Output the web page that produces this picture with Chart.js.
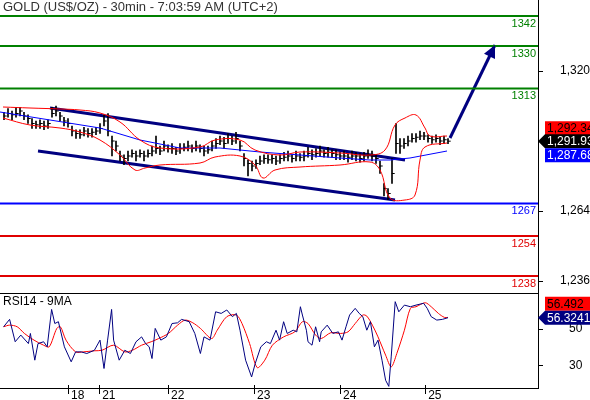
<!DOCTYPE html>
<html><head><meta charset="utf-8">
<script src="https://cdn.jsdelivr.net/npm/chart.js@4"></script>
<style>body{margin:0;background:#fff;overflow:hidden}canvas{position:absolute;left:0}#c1{top:0}#c2{top:293px}</style>
</head><body>
<canvas id="c1" width="590" height="293"></canvas>
<canvas id="c2" width="590" height="107"></canvas>
<script>
const title = "GOLD (US$/OZ) - 30min - 7:03:59 AM (UTC+2)";
const close = [1302,1303,1302.5,1303,1304,1302,1301,1299,1298.5,1299,1298,1299,1303,1304,1302,1300,1299,1296,
1295,1294.5,1296,1295,1295.5,1296,1297,1300,1296,1292,1290,1286,1285,1286,1287,1286,1287,1286,1287,1288,
1289,1288,1290,1289,1289,1288,1289,1289.5,1290,1289,1290,1289,1288,1288.5,1290,1291,1292,1291,1293,1292,1293,1290,
1285,1283,1282,1283,1284,1285,1284.5,1285,1284,1285,1285.5,1286,1285,1286,1285.5,1286,1287,1286.5,1287,1288,1287,1287.5,1287,1286.5,1286,
1286,1285.5,1286,1286,1285,1286,1286.5,1286,1285,1282,1273,1271,1279,1291,1290,1291,1292,1293,1293.5,1294,
1294,1293,1292.5,1293,1292,1292.5,1291.93];
const up = [1.5,2,1.5,2.5,1.5,1.5,1.5,2,1.5,1.5,2,1.5,2.5,2,1.5,1.5,2,2,
1.5,2,1.5,2,1.5,1.5,2,2.5,7,2,2,2,1.5,2,1.5,2,1.5,2,1.5,2,
5,2,2,1.5,2,1.5,2,1.5,2,1.5,2,1.5,2,1.5,2,2,2,2.5,2,2,2.5,2,
2,1.5,2,1.5,2,1.5,2,1.5,2,1.5,2,2,1.5,2,1.5,2,2.5,2,2,2,1.5,2,1.5,2,1.5,
2,1.5,2,1.5,2,1.5,2,2,1.5,2,2,2,6,8,3,2,2,2,1.5,2,
1.5,1.5,1.5,1.5,1.5,1.5,1];
const dn = [1.5,1.5,2,1.5,2,1.5,2,2,1.5,2,1.5,2,1.5,2,2,2,1.5,2,
2,1.5,2,1.5,2,1.5,2,2,2,6,2,2,2.5,2,1.5,2,1.5,2,1.5,2,
2,1.5,2,1.5,2,1.5,2,1.5,2,1.5,2,1.5,2,1.5,2,2,1.5,2,2,1.5,2,2,
3,5,2,2,1.5,2,1.5,2,1.5,2,1.5,2,1.5,2,1.5,2,1.5,2,1.5,2,1.5,2,1.5,2,1.5,
1.5,2,1.5,2,1.5,2,1.5,2,2,3,3,2.5,4,4,3,2,2,1.5,2,1.5,
1.5,1.5,1.5,1.5,1.5,1.5,1];
const bbUpX = [0.75,7.5,15,20,25,30,35,40,50,53.75,60,63.75,70,75,85,92.5,96.25,98.75,101.25,104,106.25,107.5,111.75];
const bbUp = [1305.6,1305.2,1304.8,1304.4,1303.2,1299.6,1292.4,1289.2,1289.6,1292.4,1292.4,1288.4,1286.4,1287.6,1287.2,1286.4,1288.4,1298.4,1301.2,1302.4,1297.2,1294,1294];
const bbLoX = [0.75,7.5,15,20,25,30,33.75,36.25,40,50,53.75,60,63.75,65.75,68.75,75,85,92.5,95,97.5,101.25,103.75,105,106.25,111.75];
const bbLo = [1301.2,1298.4,1297.2,1295.6,1292.4,1286.4,1280.4,1281.2,1282.4,1283.2,1285.6,1286,1282.4,1277.2,1280.4,1281.6,1282.4,1283.6,1280.4,1269.2,1268.4,1270.4,1284.4,1289.6,1291.2];
const maX = [0,12.5,25,35,45,55,65,75,85,92.5,97.5,102.5,111.75];
const ma = [1303.6,1300.4,1297.2,1292.4,1289.2,1289.2,1287.6,1286.4,1285.2,1284.4,1284.4,1285.2,1288];
const chanUp = [[12.5,1305.2],[101.25,1284.4]];
const chanLo = [[9.5,1288],[98.75,1268.4]];
const arrowPts = [[112.5,1293.2],[123.75,1330.4]];
const levels = [1342,1330,1313,1267,1254,1238];
const levelColors = ["#008000","#008000","#008000","#0000ff","#e00000","#e00000"];
const priceTicks = [1236,1264,1320];
const badges = [["1,292.34","#ff0000","#000",-13],["1,291.93","#000","#fff",0],["1,287.68","#0000ff","#fff",14]];
const badgeRef = 1291.93;

const rsiX = [0.9,2.4,3.8,5.2,7.1,7.6,8.7,9.5,10.9,11.8,12.9,13.7,14.6,16.1,17.8,18.9,20.3,21.7,23.6,25,26,26.9,27.9,28.4,29.8,31.2,32.6,34,35.4,36.4,37.3,38,38.8,40.2,41.6,43,44.4,45.4,47.3,48.7,50.1,51,52.5,53.9,55.3,56.7,58.1,59.1,60,61.4,62.9,63.8,65.2,66.6,67.6,69,69.9,70.9,71.8,73.3,74.2,75.1,75.6,76.6,77,78,78.9,79.9,80.3,81.8,83.2,84.6,85.5,86.5,87.4,88.8,89.8,90.7,91.7,92.6,93.6,94.5,95.5,96.4,97.2,97.8,98.8,99.7,101.1,102.6,104,105.9,106.8,107.8,109.2,110.6,112];
const rsi = [51.3,55.4,43,46.7,42,47.6,32.8,42,43,40.2,60.9,53.1,54.1,40.2,31.9,37.4,37.4,36.5,38.3,43.9,28.2,43.9,60.9,43.9,32.8,38.3,36.5,43,45.7,42,40.2,33.7,50.4,43.9,45.7,53.1,53.5,55.4,54.1,47.6,36.5,45.7,43.9,59.6,58.7,60.6,56.9,58.7,49.4,32.8,23.5,30.9,40.2,43,42,49.4,43.9,54.1,47.6,49.4,48.5,62.4,57.8,49.4,43,41.1,51.3,43,48.5,52.2,47.6,48.5,43.9,51.3,57.8,61.5,58.7,56.9,49.4,54.1,40.2,43.9,32.8,21.7,18.3,34.6,65.2,59.6,63.3,62.4,63.3,64.3,61.5,56.9,55,55.4,56.32];
const rsiMaX = [0.9,2.4,4.3,6.1,8.5,10.9,12.3,14.2,15.1,16.5,18.9,20.8,23.6,25.5,28.4,31.2,33.1,35.4,37.8,39.7,42.1,44.4,46.3,48.2,50.1,52.9,54.3,56.7,59.1,60.5,62.4,64.3,66.2,68.1,70.9,73.7,75.6,77,78.9,80.3,82.7,85.1,87,88.8,90.7,91.7,93.1,94.5,96.4,97.8,99.2,101.1,102.6,104,106.3,107.8,109.6,111.1,112];
const rsiMa = [51.3,52.2,51.3,47.6,43.9,41.1,40.2,50.4,51.3,43.9,37.4,37.4,38,38.3,41.1,37.4,38.3,41.1,43,44.8,47.6,52.2,55,53.5,50.4,44.8,49.4,56.9,57.8,53.1,42,28.7,32.8,41.1,45.7,48.5,54.1,53.1,46.7,44.8,48,47.6,48.5,53.1,57.8,57.2,52.2,45.7,35.6,29.1,36.5,49.4,61.5,62.4,64.6,62.4,58.7,56.5,56.49];
const rsiTicks = [30,50];
const rsiBadges = [["56.492","#ff0000","#000",-14],["56.3241","#000080","#fff",0]];
const dayTicks = [17,24.8,42,63.5,85,106.3];
const dayLabels = ["18","21","22","23","24","25"];

const FONT = "'Liberation Sans', Arial, sans-serif";
const XMAX = 134.5;
const pts = (xs, ys) => xs.map((x,i)=>({x, y:ys[i]}));
const seg = a => a.map(p=>({x:p[0],y:p[1]}));
const line = (data,color,w,extra={}) => Object.assign({type:'line',data,borderColor:color,borderWidth:w,pointRadius:0,pointHoverRadius:0,fill:false,tension:0},extra);

function badge(ctx, x, y, txt, bg, fg, arrow){
  ctx.font = "12px " + FONT;
  ctx.fillStyle = bg;
  ctx.beginPath();
  if(arrow){ctx.moveTo(x-7,y);ctx.lineTo(x,y-7);}
  else ctx.moveTo(x,y-7);
  ctx.lineTo(590,y-7);ctx.lineTo(590,y+7);ctx.lineTo(x,y+7);
  ctx.closePath();ctx.fill();
  ctx.fillStyle = fg;ctx.textAlign='left';ctx.textBaseline='middle';
  ctx.fillText(txt, x+2, y+1);
}

const mainPlugin = {
  id:'mainDeco',
  afterDraw(chart){
    const {ctx, chartArea:a, scales:{x,y}} = chart;
    ctx.save();
    const p0 = arrowPts[0], p1 = arrowPts[1];
    const x0=x.getPixelForValue(p0[0]), y0=y.getPixelForValue(p0[1]);
    const x1=x.getPixelForValue(p1[0]), y1=y.getPixelForValue(p1[1]);
    const ang = Math.atan2(y1-y0,x1-x0);
    ctx.fillStyle = "#000080";
    ctx.beginPath();
    ctx.moveTo(x1,y1);
    ctx.lineTo(x1-14*Math.cos(ang-0.45), y1-14*Math.sin(ang-0.45));
    ctx.lineTo(x1-14*Math.cos(ang+0.45), y1-14*Math.sin(ang+0.45));
    ctx.closePath();ctx.fill();
    ctx.font = "11px " + FONT; ctx.textAlign='right'; ctx.textBaseline='top';
    levels.forEach((l,i)=>{ctx.fillStyle=levelColors[i];ctx.fillText(String(l), a.right-2, y.getPixelForValue(l)+2);});
    ctx.fillStyle="#333";ctx.textAlign='left';ctx.textBaseline='top';ctx.font="13px "+FONT;
    ctx.fillText(title, 3, 1);
    const by = y.getPixelForValue(badgeRef);
    badges.forEach(b=>badge(ctx, a.right+7, by+b[3], b[0], b[1], b[2], b[3]===0));
    ctx.restore();
  }
};

new Chart(document.getElementById('c1'), {
  data:{datasets:[
    ...levels.map((l,i)=>line([{x:0,y:l},{x:XMAX,y:l}], levelColors[i], 2)),
    line(pts(bbUpX,bbUp),"#ff0000",1,{tension:0.4}),
    line(pts(bbLoX,bbLo),"#ff0000",1,{tension:0.4}),
    line(pts(maX,ma),"#0000ff",1),
    {type:'bar',data:close.map((c,i)=>({x:i+1,y:[c-dn[i],c+up[i]]})),backgroundColor:"#000",barThickness:1,grouped:false},
    {type:'scatter',data:close.map((c,i)=>({x:i+1.3,y:c})),pointStyle:'line',pointRadius:1.5,pointHoverRadius:0,borderColor:"#000",borderWidth:1},
    line(seg(chanUp),"#000080",3),
    line(seg(chanLo),"#000080",3),
    line(seg(arrowPts),"#000080",3)
  ]},
  options:{
    responsive:false, animation:false, devicePixelRatio:1,
    layout:{padding:0, autoPadding:false},
    plugins:{legend:{display:false},tooltip:{enabled:false},title:{display:false}},
    scales:{
      x:{type:'linear',min:0,max:XMAX,display:false,offset:false},
      y:{type:'linear',position:'right',min:1231.2,max:1348.4,
        afterFit(s){s.width=52;s.paddingTop=0;s.paddingBottom=0;},
        afterBuildTicks(s){s.ticks=priceTicks.map(v=>({value:v}));},
        ticks:{color:"#000",font:{size:12,family:FONT},padding:17,callback:v=>v.toLocaleString('en-US')},
        grid:{drawOnChartArea:false,tickLength:5,color:"#000"},
        border:{color:"#000"}}
    }
  },
  plugins:[mainPlugin]
});

const rsiPlugin = {
  id:'rsiDeco',
  afterDraw(chart){
    const {ctx, chartArea:a, scales:{x,y}} = chart;
    ctx.save();
    ctx.strokeStyle="#000";ctx.lineWidth=1;
    ctx.beginPath();ctx.moveTo(0,a.top+0.5);ctx.lineTo(a.right,a.top+0.5);
    ctx.moveTo(0,a.bottom+0.5);ctx.lineTo(a.right,a.bottom+0.5);
    dayTicks.forEach(d=>{const px=Math.round(x.getPixelForValue(d))+0.5;ctx.moveTo(px,a.bottom-3);ctx.lineTo(px,a.bottom+6);});
    ctx.stroke();
    ctx.font="12px "+FONT;ctx.fillStyle="#000";ctx.textBaseline='top';ctx.textAlign='left';
    dayTicks.forEach((d,i)=>ctx.fillText(dayLabels[i], x.getPixelForValue(d)+3, a.bottom+2));
    ctx.fillText("RSI14 - 9MA", 3, a.top+3);
    const by = y.getPixelForValue(rsi[rsi.length-1]);
    rsiBadges.forEach(b=>badge(ctx, a.right+7, by+b[3], b[0], b[1], b[2], b[3]===0));
    ctx.restore();
  }
};

new Chart(document.getElementById('c2'), {
  data:{datasets:[
    line(pts(rsiX,rsi),"#000080",1),
    line(pts(rsiMaX,rsiMa),"#ff0000",1,{tension:0.3})
  ]},
  options:{
    responsive:false, animation:false, devicePixelRatio:1,
    layout:{padding:{top:0,left:0,right:0,bottom:12}, autoPadding:false},
    plugins:{legend:{display:false},tooltip:{enabled:false},title:{display:false}},
    scales:{
      x:{type:'linear',min:0,max:XMAX,display:false,offset:false},
      y:{type:'linear',position:'right',min:17.4,max:70,
        afterFit(s){s.width=52;s.paddingTop=0;s.paddingBottom=0;},
        afterBuildTicks(s){s.ticks=rsiTicks.map(v=>({value:v}));},
        ticks:{color:"#000",font:{size:12,family:FONT},padding:26},
        grid:{drawOnChartArea:false,tickLength:5,color:"#000"},
        border:{color:"#000"}}
    }
  },
  plugins:[rsiPlugin]
});
</script>
</body></html>
